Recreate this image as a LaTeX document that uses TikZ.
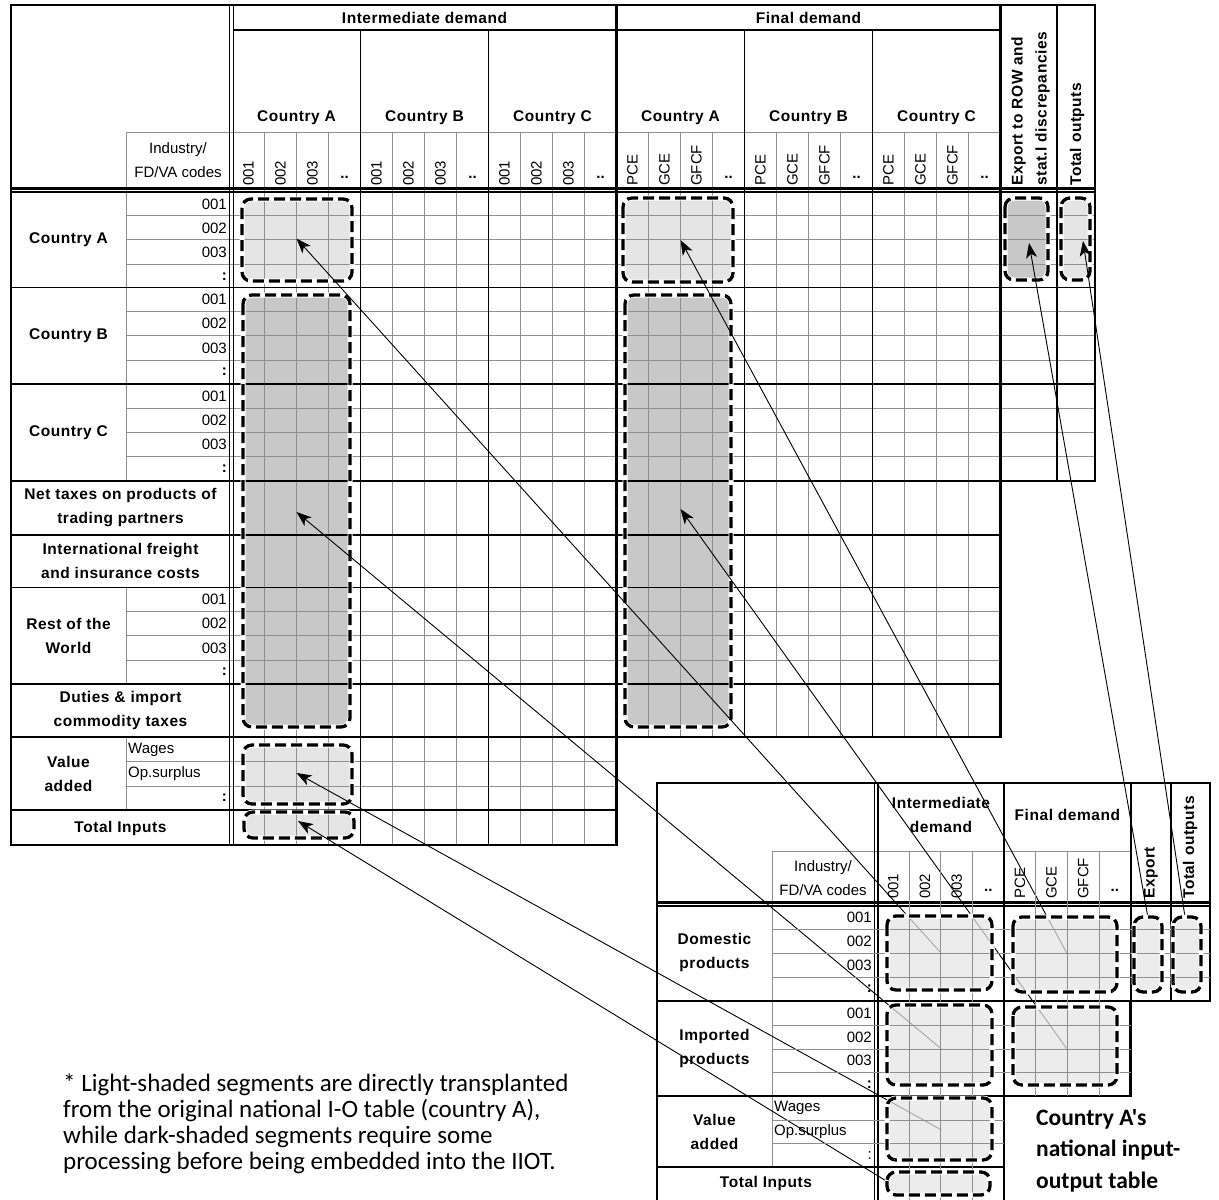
\documentclass[tikz,border=0pt]{standalone}
\usepackage{fontspec}
\setmainfont{Liberation Sans}
\newfontfamily\bsp[LetterSpace=3.5]{Liberation Sans}
\newfontfamily\calfont{Carlito}
\usetikzlibrary{arrows.meta}
\definecolor{ltfill}{gray}{0.9}
\definecolor{dkfill}{gray}{0.785}
\definecolor{gridc}{gray}{0.56}
\newcommand\tfs{\fontsize{15}{24}\selectfont}
\newcommand\tbfs{\fontsize{15.5}{24}\selectfont}
\tikzset{
  gridl/.style={draw=gridc, line width=0.9pt},
  thinb/.style={draw=black, line width=1.7pt},
  thickb/.style={draw=black, line width=2.7pt},
  dashb/.style={draw=black, line width=3.3pt, dash pattern=on 11pt off 5pt, rounded corners=9pt},
  under/.style={draw=white, line width=5pt, rounded corners=9pt},
  boldlbl/.style={font=\tbfs\bsp\bfseries, inner sep=0pt, align=center},
  reglbl/.style={font=\tfs, inner sep=0pt},
  vcode/.style={font=\tfs, inner sep=0pt, rotate=90, anchor=west},
  vbold/.style={font=\tbfs\bsp\bfseries, inner sep=0pt, rotate=90, anchor=west, align=left},
  dots/.style={font=\tfs\bfseries, inner sep=0pt, anchor=base},
  arr/.style={draw=black, line width=0.9pt, -{Stealth[length=15pt,width=11pt,inset=4pt]}},
  notetxt/.style={font=\calfont\fontsize{25}{26}\selectfont, inner sep=0pt, anchor=base west},
  captxt/.style={font=\calfont\bfseries\fontsize{23.5}{31}\selectfont, inner sep=0pt, anchor=base west},
}
\newcommand\boxfill[3]{\fill[#1, rounded corners=9pt] #2 rectangle #3;}
\newcommand\boxline[2]{\draw[under] #1 rectangle #2; \draw[dashb] #1 rectangle #2;}
\newcommand\smallgrid{%
 \foreach \i in {1,2,3} \draw[gridl] (877.5+31.65*\i,851) -- (877.5+31.65*\i,1203);
 \foreach \i in {5,6,7} \draw[gridl] (877.5+31.65*\i,851) -- (877.5+31.65*\i,1096);
 \foreach \yy in {929.5,953.5,977.5} \draw[gridl] (772,\yy) -- (1210,\yy);
 \foreach \yy in {1025,1049,1072.5} \draw[gridl] (772,\yy) -- (1130.7,\yy);
 \foreach \yy in {1120,1143.5} \draw[gridl] (772,\yy) -- (1004,\yy);
}
\begin{document}
\begin{tikzpicture}[x=1pt,y=-1pt]
\useasboundingbox (0,0) rectangle (1219,1200);
\fill[white] (0,0) rectangle (1219,1200);

% ================= big table: fills
\boxfill{ltfill}{(242,199)}{(352,281)}
\boxfill{dkfill}{(243,295)}{(350,727)}
\boxfill{ltfill}{(243,745)}{(352,804)}
\boxfill{ltfill}{(244,812)}{(354,838)}
\boxfill{ltfill}{(623,198)}{(733,282)}
\boxfill{dkfill}{(625,295)}{(731,727)}
\boxfill{dkfill}{(1005,198)}{(1048,280)}
\boxfill{ltfill}{(1061,198)}{(1090,280)}

% ================= big table: grid
\foreach \i in {1,2,3,5,6,7,9,10,11} \draw[gridl] (232.5+32*\i,132) -- (232.5+32*\i,845);
\foreach \i in {13,14,15,17,18,19,21,22,23} \draw[gridl] (232.5+32*\i,132) -- (232.5+32*\i,737);
\foreach \yy in {215.5,239.5,264,311.5,335.5,360,408,432.5,456.5} \draw[gridl] (126,\yy) -- (1095,\yy);
\foreach \yy in {611.5,635.5,660} \draw[gridl] (126,\yy) -- (1000.5,\yy);
\foreach \yy in {761.5,786} \draw[gridl] (126,\yy) -- (616.5,\yy);
\draw[gridl] (126,132) -- (1000.5,132);
\draw[gridl] (126,132) -- (126,481);
\draw[gridl] (126,587.5) -- (126,684);
\draw[gridl] (126,737) -- (126,810);

% ================= big table: rules
\draw[thickb] (11,5) -- (1095,5) -- (1095,481) -- (1000.5,481) -- (1000.5,737) -- (616.5,737) -- (616.5,845) -- (11,845) -- cycle;
\draw[thinb] (232.5,30) -- (1000.5,30);
\draw[thickb] (11,188.5) -- (1095,188.5);
\draw[thinb] (11,192) -- (1095,192);
\draw[thinb] (229.5,5) -- (229.5,845);
\draw[thinb] (233.5,5) -- (233.5,845);
\draw[thinb] (360.5,30) -- (360.5,845);
\draw[thinb] (488.5,30) -- (488.5,845);
\draw[thickb] (616.5,5) -- (616.5,845);
\draw[thinb] (744.5,30) -- (744.5,737);
\draw[thinb] (872.5,30) -- (872.5,737);
\draw[thickb] (1000.5,5) -- (1000.5,737);
\draw[thinb] (1057,5) -- (1057,481);
\draw[thinb] (11,287.5) -- (1095,287.5);
\draw[thinb] (11,384) -- (1095,384);
\draw[thickb] (11,481) -- (1095,481);
\draw[thinb] (11,535) -- (1000.5,535);
\draw[thinb] (11,587.5) -- (1000.5,587.5);
\draw[thinb] (11,684) -- (1000.5,684);
\draw[thickb] (11,737) -- (1000.5,737);
\draw[thinb] (11,810) -- (616.5,810);

% ================= big table: dashed borders
\boxline{(242,199)}{(352,281)}
\boxline{(243,295)}{(350,727)}
\boxline{(243,745)}{(352,804)}
\boxline{(244,812)}{(354,838)}
\boxline{(623,198)}{(733,282)}
\boxline{(625,295)}{(731,727)}
\boxline{(1005,198)}{(1048,280)}
\boxline{(1061,198)}{(1090,280)}

% ================= big table: header text
\node[boldlbl] (hIM) at (424.5,17.5) {Intermediate demand};
\node[boldlbl] (hFD) at (808.5,17.5) {Final demand};
\foreach \xx/\nm [count=\n] in {296.5/A,424.5/B,552.5/C,680.5/A,808.5/B,936.5/C}
  \node[boldlbl] (hc\n) at (\xx,118) {Country \nm};
\node[reglbl, align=center] (hcode) at (178,160.5) {Industry/\\FD/VA codes};
\foreach \g in {0,1,2} {
  \foreach \lab [count=\c from 0] in {001,002,003}
    \node[vcode] (ic\g\c) at (232.5+128*\g+32*\c+16,186) {\lab};
  \node[dots] (ic\g3) at (232.5+128*\g+112,178) {..};
  \foreach \lab [count=\c from 0] in {PCE,GCE,GFCF}
    \node[vcode] (fc\g\c) at (616.5+128*\g+32*\c+16,186) {\lab};
  \node[dots] (fc\g3) at (616.5+128*\g+112,178) {..};
}
\node[vbold] (hEX) at (1030.5,186) {Export to ROW and\\stat.l discrepancies};
\node[vbold] (hTO) at (1077,186) {Total outputs};

% ================= big table: row text
\node[boldlbl] (rA) at (68.5,239.5) {Country A};
\node[boldlbl] (rB) at (68.5,336) {Country B};
\node[boldlbl] (rC) at (68.5,432.5) {Country C};
\node[boldlbl] (rNT) at (120.5,508) {Net taxes on products of\\trading partners};
\node[boldlbl] (rIF) at (120.5,561) {International freight\\and insurance costs};
\node[boldlbl] (rRW) at (68.5,635.5) {Rest of the\\World};
\node[boldlbl] (rDU) at (120.5,710.5) {Duties \& import\\commodity taxes};
\node[boldlbl] (rVA) at (68.5,773.5) {Value\\added};
\node[boldlbl] (rTI) at (120.5,828) {Total Inputs};
\foreach \ty [count=\n] in {192,287.5,384,587.5} {
  \foreach \lab [count=\k from 0] in {001,002,003}
    \node[reglbl, anchor=east] (cl\n\k) at (227,\ty+12.1+24.15*\k) {\lab};
  \node[reglbl, font=\tfs\bfseries, anchor=east] (cl\n3) at (227,\ty+12.1+24.15*3) {:};
}
\node[reglbl, anchor=west] (vaw) at (128,750) {Wages};
\node[reglbl, anchor=west] (vao) at (128,774) {Op.surplus};
\node[reglbl, font=\tfs\bfseries, anchor=east] (vac) at (227,798) {:};

% ================= small table: grid and rules
\smallgrid
\draw[gridl] (772,851) -- (1130.7,851);
\draw[gridl] (772,851) -- (772,1167);
\draw[thickb] (657,1203) -- (657,783) -- (1210,783) -- (1210,1001) -- (1130.7,1001) -- (1130.7,1096) -- (1004,1096) -- (1004,1203);
\draw[thinb] (874.5,783) -- (874.5,1203);
\draw[thinb] (878,783) -- (878,1203);
\draw[thickb] (1004,783) -- (1004,1096);
\draw[thinb] (1130.7,783) -- (1130.7,1001);
\draw[thinb] (1171,783) -- (1171,1001);
\draw[thickb] (657,902.5) -- (1210,902.5);
\draw[thinb] (657,906) -- (1210,906);
\draw[thickb] (657,1001) -- (1210,1001);
\draw[thickb] (657,1096) -- (1130.7,1096);
\draw[thinb] (657,1167) -- (1004,1167);

% ================= small table: text
\node[boldlbl] (sIMh) at (941,815) {Intermediate\\demand};
\node[boldlbl] (sFDh) at (1067.4,815) {Final demand};
\node[vbold] (sEXh) at (1151,899) {Export};
\node[vbold] (sTOh) at (1190,899) {Total outputs};
\node[reglbl, align=center] (scode) at (823,878.5) {Industry/\\FD/VA codes};
\foreach \lab [count=\c from 0] in {001,002,003}
  \node[vcode] (sic\c) at (877.5+31.65*\c+15.8,899) {\lab};
\node[dots] (sic3) at (877.5+31.65*3+15.8,891) {..};
\foreach \lab [count=\c from 0] in {PCE,GCE,GFCF}
  \node[vcode] (sfc\c) at (1004.1+31.65*\c+15.8,899) {\lab};
\node[dots] (sfc3) at (1004.1+31.65*3+15.8,891) {..};
\node[boldlbl] (sDom) at (714.5,952) {Domestic\\products};
\node[boldlbl] (sImp) at (714.5,1048.5) {Imported\\products};
\node[boldlbl] (sVAl) at (714.5,1131.5) {Value\\added};
\node[boldlbl] (sTIl) at (766,1183) {Total Inputs};
\foreach \ty [count=\n] in {905.5,1001} {
  \foreach \lab [count=\k from 0] in {001,002,003}
    \node[reglbl, anchor=east] (scl\n\k) at (872,\ty+12+23.85*\k) {\lab};
  \node[reglbl, font=\tfs\bfseries, anchor=east] (scl\n3) at (872,\ty+12+23.85*3) {:};
}
\node[reglbl, anchor=west] (svaw) at (774,1108) {Wages};
\node[reglbl, anchor=west] (svao) at (774,1132) {Op.surplus};
\node[reglbl, anchor=east] (svac) at (872,1156) {:};

% ================= connectors
\coordinate (tIMA) at (296.5,238.5);
\coordinate (tFDA) at (680.5,240);
\coordinate (tIMD) at (296.5,512);
\coordinate (tFDD) at (680.5,509);
\coordinate (tVA) at (296.5,773);
\coordinate (tTI) at (298,821);
\coordinate (tEX) at (1029,243);
\coordinate (tTO) at (1083,241);
\coordinate (sIMA) at (941.5,953.5);
\coordinate (sFDA) at (1067,953.5);
\coordinate (sIMD) at (941.5,1049);
\coordinate (sFDD) at (1067,1049);
\coordinate (sVA) at (941.5,1130);
\coordinate (sTI) at (888,1182);
\coordinate (sEX) at (1148,918);
\coordinate (sTO) at (1185,917);
\draw[arr] (sIMA) -- (tIMA);
\draw[arr] (sFDA) -- (tFDA);
\draw[arr] (sIMD) -- (tIMD);
\draw[arr] (sFDD) -- (tFDD);
\draw[arr] (sVA) -- (tVA);
\draw[arr] (sTI) -- (tTI);
\draw[arr] (sEX) -- (tEX);
\draw[arr] (sTO) -- (tTO);

% ================= small table: shaded segments
\begin{scope}[fill opacity=0.72]
\boxfill{ltfill}{(887,916)}{(992,990)}
\boxfill{ltfill}{(887,1005)}{(992,1085)}
\boxfill{ltfill}{(887,1098)}{(992,1160)}
\boxfill{ltfill}{(887,1172)}{(990,1195)}
\boxfill{ltfill}{(1013,917)}{(1117,992)}
\boxfill{ltfill}{(1013,1007)}{(1117,1085)}
\boxfill{ltfill}{(1134,917)}{(1162,992)}
\boxfill{ltfill}{(1173,917)}{(1201,992)}
\end{scope}
\smallgrid
\boxline{(887,916)}{(992,990)}
\boxline{(887,1005)}{(992,1085)}
\boxline{(887,1098)}{(992,1160)}
\boxline{(887,1172)}{(990,1195)}
\boxline{(1013,917)}{(1117,992)}
\boxline{(1013,1007)}{(1117,1085)}
\boxline{(1134,917)}{(1162,992)}
\boxline{(1173,917)}{(1201,992)}

% ================= notes
\node[notetxt] (n1) at (63,1091) {* Light-shaded segments are directly transplanted};
\node[notetxt] (n2) at (63,1117) {from the original national I-O table (country A),};
\node[notetxt] (n3) at (63,1143) {while dark-shaded segments require some};
\node[notetxt] (n4) at (63,1169) {processing before being embedded into the IIOT.};
\node[captxt] (c1) at (1036,1125) {Country A's};
\node[captxt] (c2) at (1036,1156) {national input-};
\node[captxt] (c3) at (1036,1188) {output table};
\end{tikzpicture}
\end{document}
